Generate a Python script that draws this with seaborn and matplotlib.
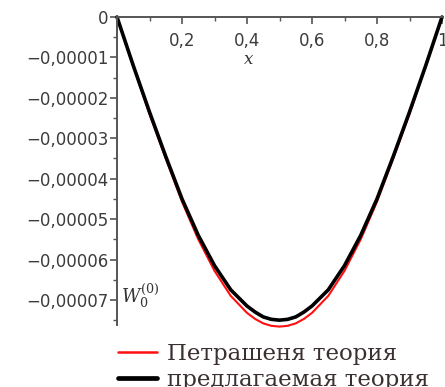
import numpy as np
import pandas as pd
import seaborn as sns
import matplotlib.pyplot as plt
from matplotlib.lines import Line2D
from matplotlib.ticker import MultipleLocator, FuncFormatter

# values (deflection, units of 1e-5)
x_vals = [0.0, 0.05, 0.1, 0.15, 0.2, 0.25, 0.3, 0.35, 0.4, 0.425, 0.45, 0.475, 0.5,
          0.525, 0.55, 0.575, 0.6, 0.65, 0.7, 0.75, 0.8, 0.85, 0.9, 0.95, 1.0]
w_petrashen = [0, -1.22, -2.40, -3.50, -4.57, -5.50, -6.28, -6.90, -7.32, -7.47, -7.58, -7.64, -7.66,
               -7.64, -7.58, -7.47, -7.32, -6.90, -6.28, -5.50, -4.57, -3.50, -2.40, -1.22, 0]
w_proposed = [0, -1.20, -2.35, -3.45, -4.50, -5.40, -6.15, -6.75, -7.15, -7.30, -7.42, -7.48, -7.50,
              -7.48, -7.42, -7.30, -7.15, -6.75, -6.15, -5.40, -4.50, -3.45, -2.35, -1.20, 0]
series_names = ["Петрашеня теория", "предлагаемая теория"]

df = pd.DataFrame({
    "x": x_vals * 2,
    "w": np.array(w_petrashen + w_proposed) * 1e-5,
    "theory": [series_names[0]] * len(x_vals) + [series_names[1]] * len(x_vals),
})

sns.set_style("white")
plt.rcParams["mathtext.fontset"] = "dejavuserif"

fig = plt.figure(figsize=(4.45, 3.87), dpi=100)
ax = fig.add_axes([117 / 445, 62 / 387, 325 / 445, 308 / 387])

sns.lineplot(data=df, x="x", y="w", hue="theory", size="theory",
             palette=["#ff1010", "#000000"], sizes=[1.5, 2.6],
             ax=ax, legend=False)
for ln in ax.lines:
    ln.set_clip_on(False)

ax.set_xlim(0, 1)
ax.set_ylim(-7.62e-5, 0)

ax.spines["top"].set_visible(False)
ax.spines["right"].set_visible(False)
ax.spines["bottom"].set_position(("data", 0))
for s in ("left", "bottom"):
    ax.spines[s].set_color("#555555")
    ax.spines[s].set_linewidth(1.4)

ax.xaxis.set_major_locator(MultipleLocator(0.2))
ax.xaxis.set_minor_locator(MultipleLocator(0.1))
ax.yaxis.set_major_locator(MultipleLocator(1e-5))
ax.yaxis.set_minor_locator(MultipleLocator(0.5e-5))

def xfmt(v, pos):
    if abs(v) < 1e-9:
        return ""
    if abs(v - 1) < 1e-9:
        return "1"
    return f"{v:.1f}".replace(".", ",")

def yfmt(v, pos):
    if abs(v) < 1e-12:
        return "0"
    return ("\u2212" + f"{abs(v):.5f}").replace(".", ",")

ax.xaxis.set_major_formatter(FuncFormatter(xfmt))
ax.yaxis.set_major_formatter(FuncFormatter(yfmt))
ax.tick_params(bottom=True, left=True, which="both")
ax.tick_params(axis="both", which="major", direction="out", length=5, width=1.2,
               color="#555555", labelsize=12, labelcolor="#3c3c3c")
ax.tick_params(axis="both", which="minor", direction="out", length=3, width=1.0,
               color="#555555")
ax.tick_params(axis="y", which="major", pad=1)
ax.tick_params(axis="x", which="major", pad=6)
ax.set_xlabel("")
ax.set_ylabel("")

ax.text(0.405, -1.05e-5, "$x$", fontsize=12, color="#333333",
        ha="center", va="center")
ax.text(0.012, -6.9e-5, "$W_0^{(0)}$", fontsize=13, color="#333333",
        ha="left", va="center")

# legend below the plot
handles = [Line2D([], [], color="#ff1010", lw=1.8),
           Line2D([], [], color="#000000", lw=3.4)]
fig.legend(handles, series_names, loc="upper left",
           bbox_to_anchor=(97 / 445, 1 - 322 / 387), frameon=False,
           handlelength=1.7, handletextpad=0.45, labelspacing=0.2,
           prop={"family": "DejaVu Serif", "size": 16.5}, labelcolor="#3a3030")

fig.savefig("out.png", dpi=100)
